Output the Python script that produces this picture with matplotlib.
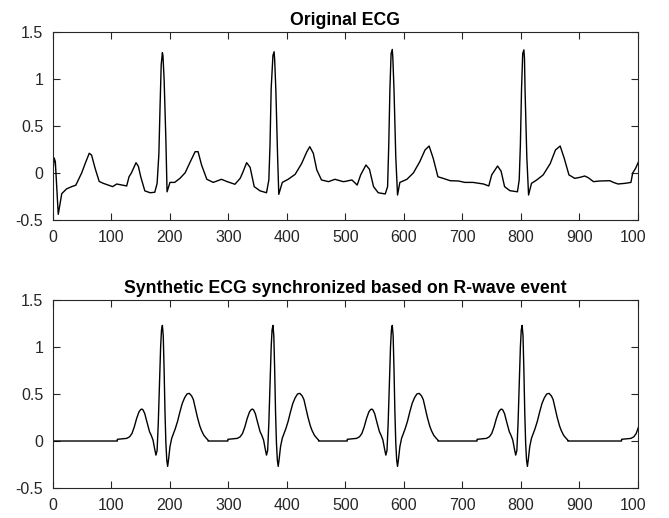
import matplotlib
matplotlib.use('Agg')
import matplotlib.pyplot as plt
from matplotlib.transforms import Bbox, TransformedBbox

plt.rcParams['font.family'] = ['Liberation Sans', 'DejaVu Sans']

# original ECG, points (sample index, amplitude)
ecg_x = [0, 2, 4, 9, 15, 23, 32, 39, 49, 55, 62, 66, 72, 79, 86, 94, 102, 109, 117, 126,
         130, 134, 142, 146, 150, 157, 166, 174, 178, 181, 183, 185, 187, 188, 190, 193, 195, 200,
         208, 217, 226, 234, 243, 248, 254, 263, 274, 288, 297, 311, 320, 325, 331, 337,
         344, 354, 365, 369, 371, 373, 376, 378, 379, 381, 384, 386, 392, 402, 414, 425,
         434, 439, 445, 451, 459, 471, 482, 496, 499, 511, 520, 526, 535, 541, 548, 556,
         568, 572, 574, 576, 578, 580, 581, 583, 586, 589, 593, 605, 616, 627, 636, 643,
         650, 658, 667, 679, 693, 704, 718, 736, 745, 750, 760, 766, 772, 781, 794, 797,
         799, 801, 803, 805, 806, 807, 810, 813, 818, 827, 838, 850, 859, 867, 874, 882,
         892, 901, 909, 915, 924, 935, 952, 958, 966, 978, 988, 991, 996, 1001]
ecg_y = [0.02, 0.16, 0.12, -0.44, -0.22, -0.17, -0.145, -0.13, 0.0, 0.10, 0.21, 0.19, 0.05,
         -0.09, -0.11, -0.127, -0.145, -0.117, -0.127, -0.138,
         -0.04, 0.0, 0.11, 0.07, -0.04, -0.19, -0.21, -0.205, -0.11, 0.2, 0.7, 1.15, 1.28, 1.25,
         0.99, 0.35, -0.2, -0.1,
         -0.1, -0.057, 0.003, 0.11, 0.227, 0.227, 0.085, -0.067, -0.1, -0.067, -0.09, -0.12,
         -0.057, 0.014, 0.11, 0.06,
         -0.145, -0.19, -0.21, -0.075, 0.3, 0.9, 1.25, 1.29, 1.2, 0.88, 0.17, -0.227, -0.1,
         -0.067, -0.014, 0.1,
         0.227, 0.28, 0.21, 0.032, -0.074, -0.092, -0.067, -0.092, -0.09, -0.074, -0.128,
         -0.02, 0.085, 0.04, -0.145, -0.21,
         -0.223, -0.145, 0.3, 0.9, 1.27, 1.315, 1.22, 0.88, 0.17, -0.234, -0.1, -0.067, 0.0,
         0.12, 0.245, 0.287,
         0.156, -0.04, -0.057, -0.082, -0.085, -0.1, -0.1, -0.117, -0.138, -0.02, 0.074, 0.02,
         -0.145, -0.188, -0.2, -0.074,
         0.3, 0.9, 1.27, 1.31, 1.22, 0.88, 0.17, -0.234, -0.11, -0.074, -0.02, 0.1, 0.245,
         0.287, 0.156, -0.02,
         -0.057, -0.046, -0.032, -0.05, -0.092, -0.085, -0.082, -0.1, -0.117, -0.11, -0.1,
         0.0, 0.05, 0.12]

# synthetic beat template (offset from R wave, amplitude)
beat_dx = [-77, -77, -70, -61, -56, -52, -48, -44, -40, -37, -35, -33, -30, -28, -25, -22,
           -19, -16, -13, -11, -9, -7, -5, -3, -1.5, 0, 1.5, 3, 4.5, 6, 7.5, 9, 10.5, 13,
           16, 19, 22, 26, 30, 34, 38, 42, 46, 50, 53, 56, 60, 64, 67, 71, 75, 78, 78]
beat_y = [0.0, 0.018, 0.022, 0.028, 0.045, 0.08, 0.15, 0.24, 0.31, 0.335, 0.34, 0.33, 0.29,
          0.24, 0.17, 0.10, 0.06, 0.01, -0.09, -0.15, -0.1, 0.19, 0.6, 1.0, 1.18, 1.23, 1.12,
          0.75, 0.3, -0.02, -0.2, -0.27, -0.2, -0.06, 0.03, 0.08, 0.13, 0.21, 0.31, 0.40,
          0.46, 0.5, 0.507, 0.48, 0.44, 0.36, 0.25, 0.16, 0.11, 0.06, 0.03, 0.01, 0.0]
r_times = [187, 376, 580, 802, 1049]

syn_x = [0.0]
syn_y = [0.0]
for r in r_times:
    for dx, v in zip(beat_dx, beat_y):
        syn_x.append(r + dx)
        syn_y.append(v)

fig = plt.figure(figsize=(6.69, 5.18), dpi=100)
ax1 = fig.add_axes([0.0792, 0.5753, 0.8744, 0.3629])
ax2 = fig.add_axes([0.0792, 0.0579, 0.8744, 0.3629])

ax1.plot(ecg_x, ecg_y, color='k', lw=1.0)
ax2.plot(syn_x, syn_y, color='k', lw=1.0)

# the reference picture is cut just right of the axes
clip = TransformedBbox(Bbox.from_extents(0, 0, 645 / 669, 1), fig.transFigure)

titles = ['Original ECG', 'Synthetic ECG synchronized based on R-wave event']
for ax, t in zip([ax1, ax2], titles):
    ax.set_xlim(0, 1000)
    ax.set_ylim(-0.5, 1.5)
    ax.set_xticks(range(0, 1001, 100))
    ax.set_yticks([-0.5, 0, 0.5, 1, 1.5])
    ax.set_yticklabels(['-0.5', '0', '0.5', '1', '1.5'])
    ax.tick_params(direction='in', top=True, right=True, length=5, width=0.8,
                   labelsize=11.5, colors='#262626', pad=7)
    for s in ax.spines.values():
        s.set_color('#262626')
        s.set_linewidth(0.8)
    ax.set_title(t, fontsize=12.7, fontweight='bold', pad=5)
    last = ax.get_xticklabels()[-1]
    last.set_clip_box(clip)
    last.set_clip_on(True)

fig.savefig('out.png', dpi=100)
